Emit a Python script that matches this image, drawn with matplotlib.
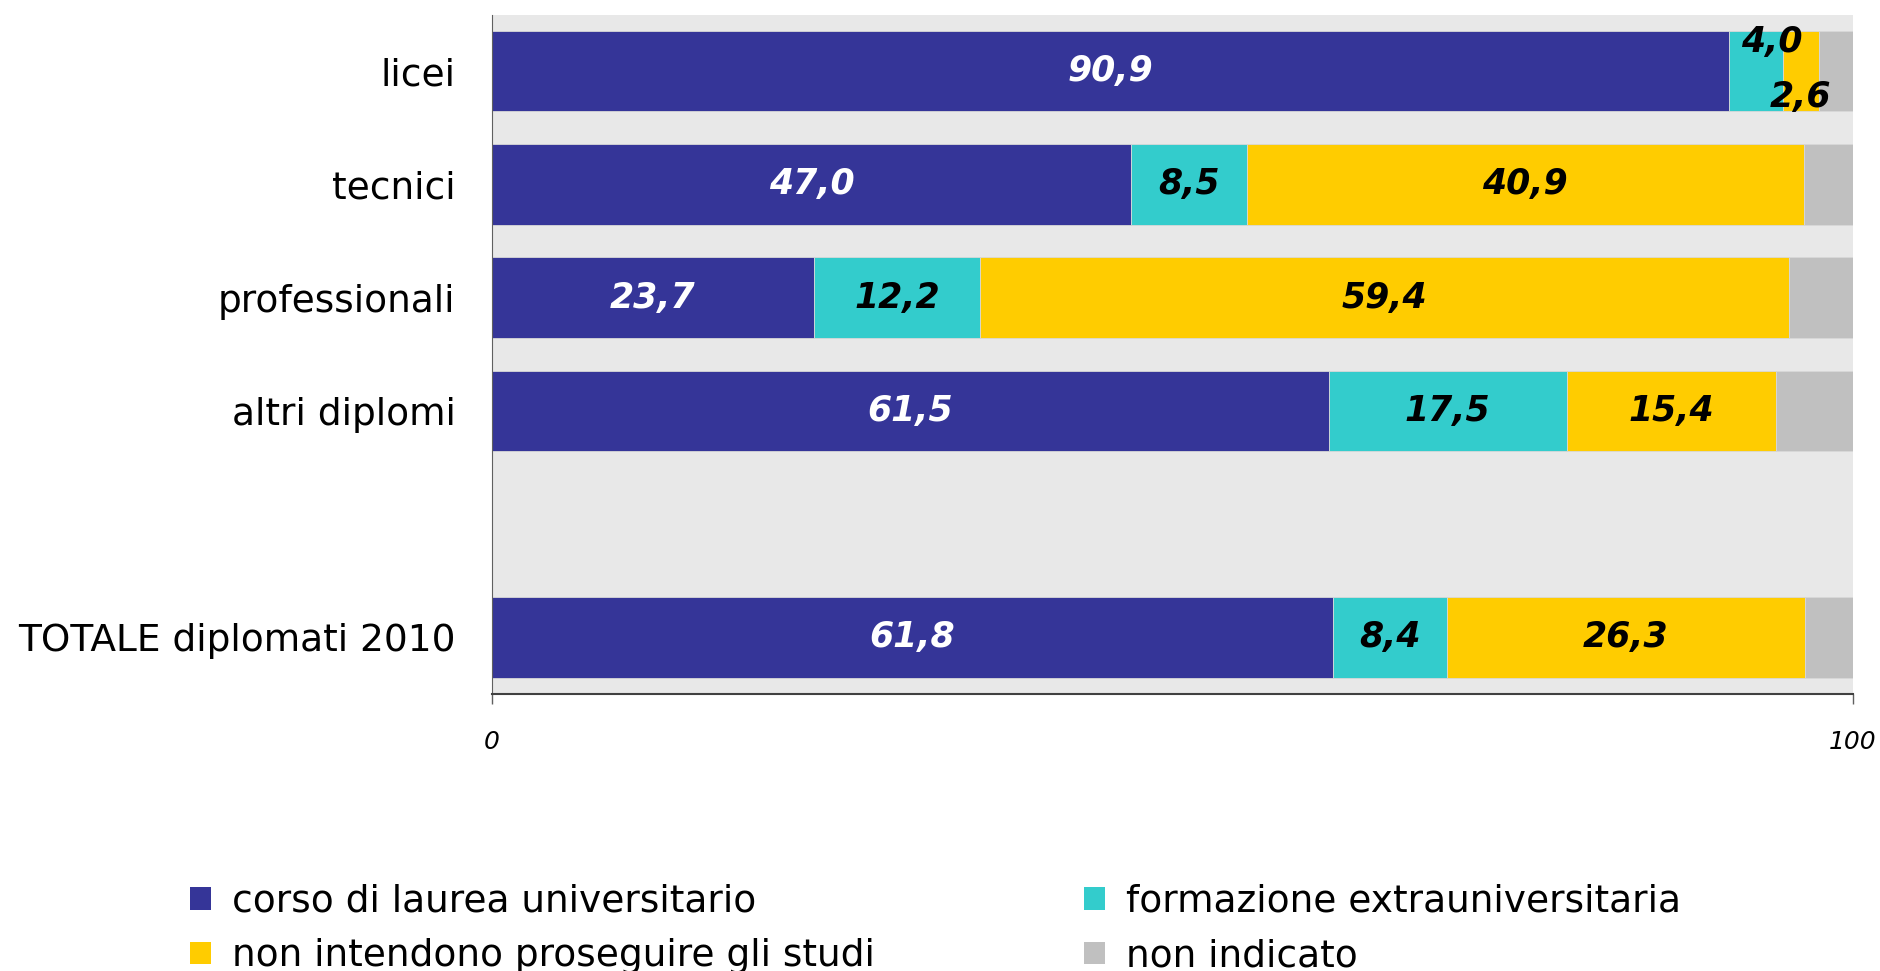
import numpy as np
import matplotlib
matplotlib.use('Agg')
import matplotlib.pyplot as plt
from matplotlib.patches import Patch

# data
categories = ['licei', 'tecnici', 'professionali', 'altri diplomi', 'TOTALE diplomati 2010']
ypos = [0, 1, 2, 3, 5]
universitario = [90.9, 47.0, 23.7, 61.5, 61.8]
extrauniv = [4.0, 8.5, 12.2, 17.5, 8.4]
non_proseguono = [2.6, 40.9, 59.4, 15.4, 26.3]
non_indicato = [2.5, 3.6, 4.7, 5.6, 3.5]

series_names = ['corso di laurea universitario', 'formazione extrauniversitaria',
                'non intendono proseguire gli studi', 'non indicato']
colors = ['#353598', '#33CCCC', '#FFCC00', '#C0C0C0']
text_colors = ['white', 'black', 'black', None]

plt.rcParams['font.family'] = 'DejaVu Sans'

fig = plt.figure(figsize=(18.8, 9.71), dpi=100)
ax = fig.add_axes([0.2615, 0.2853, 0.7239, 0.6997])
ax.set_facecolor('#E8E8E8')

all_series = [universitario, extrauniv, non_proseguono, non_indicato]
left = np.zeros(len(categories))
for s, (vals, col, tcol) in enumerate(zip(all_series, colors, text_colors)):
    vals = np.array(vals)
    ax.barh(ypos, vals, left=left, height=0.71, color=col,
            edgecolor='#D8D8D8', linewidth=0.6)
    if tcol is not None:
        for i, v in enumerate(vals):
            xc = left[i] + v / 2
            yc = ypos[i]
            # small segments on licei: labels pushed up / down
            if v < 5:
                if s == 1:
                    xc += 1.2
                    yc -= 0.26
                else:
                    yc += 0.23
            ax.text(xc, yc, f'{v:.1f}'.replace('.', ','), ha='center', va='center',
                    color=tcol, fontsize=25, fontweight='bold', fontstyle='italic')
    left = left + vals

ax.set_xlim(0, 100)
ax.set_ylim(5.5, -0.5)
ax.set_yticks(ypos)
ax.set_yticklabels(categories, fontsize=27)
ax.tick_params(axis='y', length=0, pad=26)
ax.set_xticks([0, 100])
ax.set_xticklabels(['0', '100'], fontsize=18, fontstyle='italic')
ax.tick_params(axis='x', length=7, width=1, color='#606060', pad=19, direction='out')

for side in ['top', 'right']:
    ax.spines[side].set_visible(False)
ax.spines['left'].set_color('#606060')
ax.spines['bottom'].set_color('#404040')
ax.spines['bottom'].set_linewidth(1.5)

handles = [Patch(facecolor=c, edgecolor='none') for c in colors]
order = [0, 2, 1, 3]
fig.legend([handles[i] for i in order], [series_names[i] for i in order],
           loc='upper left', bbox_to_anchor=(0.101, 0.090), ncol=2, frameon=False,
           fontsize=27, handlelength=0.55, handleheight=0.55, handletextpad=0.56,
           columnspacing=5.6, labelspacing=0.5, borderpad=0, borderaxespad=0)

fig.savefig('out.png', dpi=100)
